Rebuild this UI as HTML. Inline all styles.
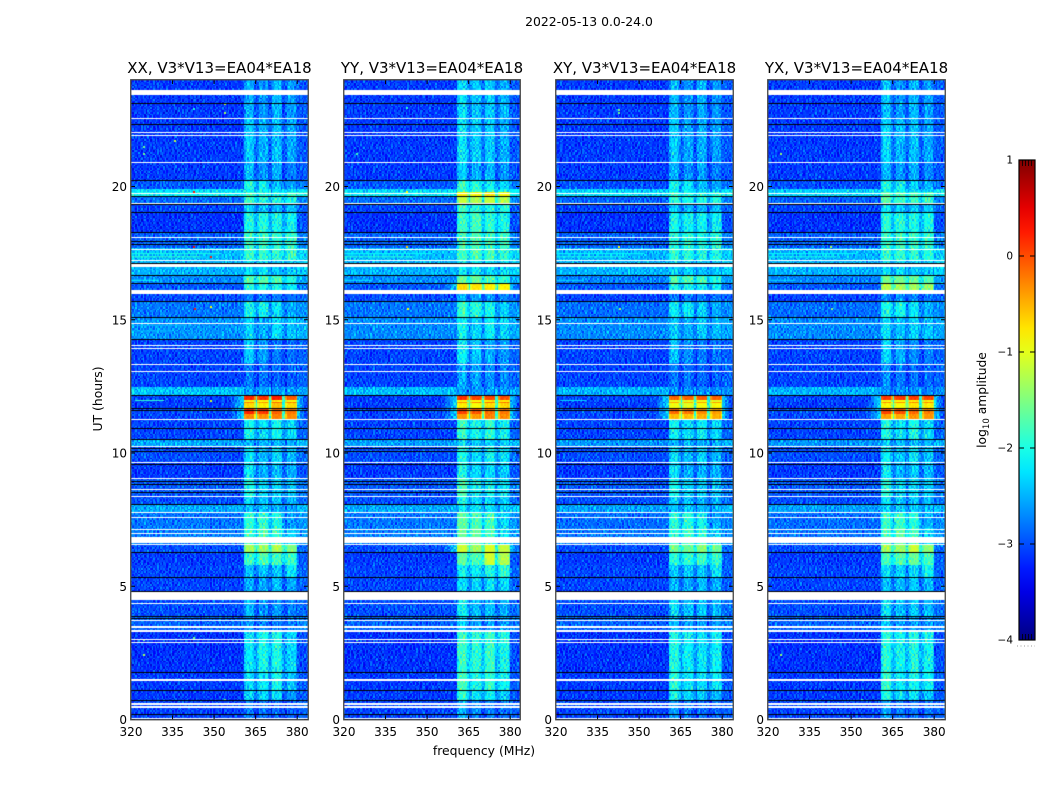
<!DOCTYPE html>
<html lang="en">
<head>
<meta charset="utf-8">
<title>2022-05-13 0.0-24.0</title>
<style>
html,body{margin:0;padding:0;background:#fff;}
#figure{position:relative;width:1050px;height:800px;overflow:hidden;background:#fff;font-family:"DejaVu Sans","Liberation Sans",sans-serif;}
canvas{position:absolute;display:block;}
svg{position:absolute;left:0;top:0;}
text{font-family:"DejaVu Sans","Liberation Sans",sans-serif;fill:#000;}
</style>
</head>
<body>
<div id="figure">
<canvas id="heat-xx" width="177" height="640" style="left:131px;top:80px"></canvas>
<canvas id="heat-yy" width="176" height="640" style="left:344px;top:80px"></canvas>
<canvas id="heat-xy" width="177" height="640" style="left:556px;top:80px"></canvas>
<canvas id="heat-yx" width="177" height="640" style="left:768px;top:80px"></canvas>
<svg id="overlay" width="1050" height="800" xmlns="http://www.w3.org/2000/svg"></svg>
</div>
<script>
const panelTitles = ["XX, V3*V13=EA04*EA18","YY, V3*V13=EA04*EA18","XY, V3*V13=EA04*EA18","YX, V3*V13=EA04*EA18"];
const freqTicks = [320,335,350,365,380];
const hourTicks = [0,5,10,15,20];
const colorTicks = [1,0,-1,-2,-3,-4];
const colorTickLabels = ["1","0","\u22121","\u22122","\u22123","\u22124"];

/* lower edge (UT hours) of each time band, top of plot downward */
const bandEndHours = [22.55,20.88,20.24,19.94,19.76,19.64,19.38,19.04,18.26,17.66,17.24,16.65,16.35,16.12,15.68,15.09,14.27,13.34,12.48,12.15,11.99,11.95,11.84,11.69,11.43,11.28,10.49,10.26,9.66,9.06,8.39,8.05,7.79,7.15,6.59,6.29,5.80,5.31,4.78,3.88,3.28,1.78,1.10,0.72,0.00];

/* log10 amplitude per band: background, then the four RFI blocks */
const levelsXX = [
[-3.25,-2.5,-2.65,-2.45,-2.6],[-3.25,-2.35,-2.5,-2.4,-2.55],[-3.25,-2.45,-2.65,-2.5,-2.75],[-3.1,-2.0,-2.1,-2.4,-2.6],[-2.4,-2.1,-2.1,-2.25,-2.3],
[-2.3,-1.8,-1.95,-2.0,-1.85],[-3.0,-1.8,-2.0,-2.0,-2.0],[-3.2,-2.3,-2.4,-2.4,-2.4],[-3.3,-2.0,-2.0,-2.05,-2.1],[-3.05,-1.85,-1.85,-1.9,-1.85],
[-2.6,-1.85,-1.9,-1.9,-1.9],[-2.65,-2.25,-2.25,-2.35,-2.35],[-2.85,-1.7,-1.7,-1.75,-2.0],[-3.1,-1.95,-2.0,-2.05,-2.15],[-3.15,-2.75,-2.75,-2.75,-2.8],
[-2.95,-2.05,-2.1,-2.2,-2.55],[-2.8,-2.3,-2.5,-2.25,-2.4],[-3.2,-2.35,-2.6,-2.75,-2.8],[-3.2,-2.75,-2.8,-2.85,-2.9],[-2.55,-2.55,-2.55,-2.6,-2.6],
[-3.2,0.2,0.15,0.25,-0.05],[-3.2,-0.9,-0.9,-0.8,-0.9],[-3.25,-0.25,-0.35,-0.15,-0.25],[-3.25,-0.7,-0.8,-0.55,-0.7],[-3.15,0.2,0.1,-0.1,-0.2],
[-3.2,-0.3,-0.35,-0.25,-0.3],[-3.2,-2.05,-2.25,-2.05,-2.3],[-2.7,-2.45,-2.45,-2.45,-2.5],[-3.15,-2.2,-2.45,-2.25,-2.45],[-3.25,-2.2,-2.5,-2.4,-2.5],
[-3.1,-2.0,-2.3,-2.3,-2.4],[-3.15,-2.25,-2.4,-2.4,-2.5],[-2.7,-2.4,-2.4,-2.45,-2.55],[-2.95,-1.9,-1.9,-2.0,-2.6],[-2.9,-1.85,-1.75,-1.85,-2.3],
[-3.15,-1.3,-1.35,-1.25,-1.5],[-3.25,-1.85,-1.75,-1.8,-1.85],[-3.2,-2.4,-2.4,-2.35,-2.2],[-3.2,-2.5,-2.55,-2.4,-2.55],[-3.15,-2.45,-2.65,-2.6,-2.75],
[-3.05,-2.6,-2.7,-2.75,-2.75],[-3.3,-2.2,-2.05,-2.0,-2.3],[-3.25,-2.25,-2.2,-2.05,-2.4],[-3.25,-2.3,-2.3,-2.25,-2.65],[-3.2,-2.75,-2.8,-2.85,-2.9]];
const levelsYY = [
[-3.25,-2.25,-2.4,-2.35,-2.5],[-3.25,-2.2,-2.35,-2.35,-2.5],[-3.25,-2.35,-2.5,-2.45,-2.65],[-3.1,-1.85,-1.95,-2.1,-2.3],[-2.45,-1.85,-1.85,-1.95,-2.05],
[-2.35,-0.8,-0.85,-0.75,-0.85],[-3.0,-1.15,-1.25,-1.15,-1.25],[-3.2,-1.8,-1.95,-2.0,-2.0],[-3.3,-1.85,-1.8,-1.9,-2.05],[-3.05,-1.8,-1.75,-1.8,-1.85],
[-2.6,-1.8,-1.75,-1.8,-1.9],[-2.65,-2.15,-2.15,-2.25,-2.25],[-2.85,-1.6,-1.6,-1.7,-1.9],[-3.1,-0.7,-0.75,-0.8,-0.85],[-3.15,-2.5,-2.55,-2.6,-2.7],
[-2.95,-1.85,-1.95,-2.05,-2.35],[-2.85,-2.1,-2.3,-2.15,-2.3],[-3.2,-2.15,-2.4,-2.5,-2.6],[-3.2,-2.5,-2.55,-2.65,-2.7],[-2.6,-2.6,-2.6,-2.6,-2.6],
[-3.25,0.15,0.05,0.05,0.0],[-3.25,-0.9,-0.9,-0.8,-0.8],[-3.25,-0.3,-0.3,-0.2,-0.2],[-3.25,-0.8,-0.9,-0.7,-0.7],[-3.2,0.05,-0.05,-0.15,-0.2],
[-3.2,-0.35,-0.4,-0.25,-0.3],[-3.2,-1.85,-2.05,-1.9,-2.1],[-2.75,-2.25,-2.3,-2.3,-2.35],[-3.15,-2.0,-2.25,-2.1,-2.25],[-3.25,-2.0,-2.3,-2.25,-2.35],
[-3.1,-1.75,-2.1,-2.1,-2.2],[-3.15,-2.0,-2.25,-2.25,-2.35],[-2.7,-2.2,-2.2,-2.25,-2.35],[-2.95,-1.65,-1.75,-1.8,-2.3],[-2.9,-1.6,-1.65,-1.75,-2.2],
[-3.15,-1.1,-1.35,-1.05,-1.15],[-3.25,-1.65,-1.75,-1.1,-1.25],[-3.2,-2.1,-2.15,-2.0,-1.95],[-3.2,-2.25,-2.3,-2.2,-2.3],[-3.15,-2.1,-2.45,-2.4,-2.5],
[-3.05,-2.35,-2.55,-2.6,-2.6],[-3.3,-1.85,-1.95,-1.85,-2.05],[-3.25,-1.8,-2.05,-1.9,-2.1],[-3.25,-1.9,-2.2,-2.1,-2.35],[-3.2,-2.5,-2.7,-2.75,-2.8]];
const levelsXY = [
[-3.25,-2.45,-2.65,-2.5,-2.65],[-3.25,-2.35,-2.55,-2.5,-2.6],[-3.25,-2.5,-2.65,-2.55,-2.75],[-3.15,-2.05,-2.2,-2.4,-2.55],[-2.5,-2.15,-2.15,-2.3,-2.35],
[-2.4,-1.85,-2.0,-2.0,-1.95],[-3.05,-1.9,-2.05,-2.05,-2.05],[-3.2,-2.35,-2.45,-2.45,-2.45],[-3.3,-2.05,-2.1,-2.1,-2.15],[-3.05,-1.95,-1.95,-2.0,-1.95],
[-2.65,-1.9,-1.95,-2.0,-2.0],[-2.65,-2.3,-2.3,-2.4,-2.4],[-2.9,-1.75,-1.75,-1.8,-2.0],[-3.1,-2.0,-2.05,-2.1,-2.2],[-3.2,-2.75,-2.75,-2.8,-2.8],
[-3.0,-2.15,-2.2,-2.3,-2.55],[-2.85,-2.35,-2.5,-2.35,-2.45],[-3.2,-2.4,-2.65,-2.75,-2.8],[-3.2,-2.75,-2.8,-2.85,-2.9],[-2.65,-2.65,-2.65,-2.65,-2.7],
[-3.2,-0.1,-0.1,-0.05,-0.1],[-3.2,-1.0,-1.0,-0.95,-1.0],[-3.25,-0.45,-0.5,-0.4,-0.4],[-3.25,-0.95,-1.0,-0.9,-0.9],[-3.15,-0.15,-0.2,-0.3,-0.4],
[-3.2,-0.55,-0.55,-0.5,-0.5],[-3.2,-2.1,-2.25,-2.15,-2.3],[-2.8,-2.45,-2.45,-2.5,-2.5],[-3.15,-2.25,-2.45,-2.3,-2.45],[-3.25,-2.25,-2.5,-2.45,-2.5],
[-3.1,-2.05,-2.3,-2.35,-2.4],[-3.15,-2.3,-2.4,-2.45,-2.5],[-2.75,-2.4,-2.4,-2.45,-2.5],[-3.0,-1.95,-1.95,-2.05,-2.55],[-2.95,-1.9,-1.8,-1.9,-2.3],
[-3.15,-1.55,-1.6,-1.45,-1.6],[-3.25,-1.95,-1.9,-1.85,-1.9],[-3.2,-2.35,-2.4,-2.35,-2.2],[-3.2,-2.45,-2.5,-2.4,-2.5],[-3.15,-2.25,-2.4,-2.4,-2.5],
[-3.05,-2.45,-2.55,-2.6,-2.6],[-3.3,-2.0,-2.15,-2.2,-2.15],[-3.25,-1.95,-2.2,-2.25,-2.2],[-3.25,-2.05,-2.3,-2.35,-2.45],[-3.2,-2.6,-2.75,-2.8,-2.85]];
const levelsYX = [
[-3.25,-2.4,-2.6,-2.45,-2.6],[-3.25,-2.3,-2.45,-2.4,-2.55],[-3.25,-2.45,-2.6,-2.5,-2.7],[-3.15,-2.0,-2.1,-2.35,-2.5],[-2.5,-2.1,-2.1,-2.25,-2.3],
[-2.45,-1.65,-1.75,-1.75,-1.75],[-3.05,-1.7,-1.85,-1.85,-1.9],[-3.2,-2.2,-2.3,-2.35,-2.35],[-3.3,-1.95,-1.95,-2.0,-2.05],[-3.05,-1.85,-1.85,-1.85,-1.9],
[-2.65,-1.85,-1.9,-1.9,-1.95],[-2.65,-2.25,-2.25,-2.35,-2.35],[-2.9,-1.55,-1.55,-1.6,-1.75],[-3.1,-1.2,-1.3,-1.3,-1.4],[-3.2,-2.65,-2.65,-2.7,-2.75],
[-3.0,-2.0,-2.05,-2.2,-2.5],[-2.85,-2.25,-2.4,-2.3,-2.4],[-3.2,-2.3,-2.5,-2.65,-2.75],[-3.2,-2.65,-2.75,-2.8,-2.85],[-2.65,-2.65,-2.65,-2.65,-2.7],
[-3.2,0.1,0.1,0.1,0.05],[-3.2,-0.9,-0.9,-0.85,-0.85],[-3.25,-0.35,-0.35,-0.3,-0.3],[-3.25,-0.85,-0.9,-0.75,-0.8],[-3.15,0.05,0.0,-0.15,-0.25],
[-3.2,-0.4,-0.45,-0.35,-0.35],[-3.2,-2.0,-2.2,-2.0,-2.25],[-2.8,-2.35,-2.4,-2.4,-2.45],[-3.15,-2.15,-2.4,-2.2,-2.4],[-3.25,-2.15,-2.45,-2.35,-2.45],
[-3.1,-1.95,-2.25,-2.25,-2.35],[-3.15,-2.2,-2.35,-2.35,-2.45],[-2.75,-2.3,-2.3,-2.35,-2.45],[-3.0,-1.85,-1.85,-1.95,-2.5],[-2.95,-1.75,-1.65,-1.8,-2.25],
[-3.15,-1.3,-1.35,-1.1,-1.4],[-3.25,-1.8,-1.7,-1.6,-1.8],[-3.2,-2.25,-2.3,-2.25,-2.1],[-3.2,-2.4,-2.45,-2.35,-2.45],[-3.15,-2.2,-2.4,-2.35,-2.45],
[-3.05,-2.4,-2.55,-2.55,-2.6],[-3.3,-1.95,-2.1,-2.0,-2.1],[-3.25,-1.9,-2.15,-2.05,-2.15],[-3.25,-2.0,-2.25,-2.2,-2.4],[-3.2,-2.55,-2.75,-2.8,-2.8]];

/* RFI block limits in MHz */
const blockStartMHz = [360.6,365.5,370.6,375.7];
const blockEndMHz = [364.9,369.9,374.9,380.0];

/* flagged (no data, white) intervals: [upper hour, lower hour] */
const maskedHours = [[23.62,23.43],[22.56,22.52],[22.04,22.0],[21.93,21.89],[20.92,20.88],[19.76,19.72],[19.38,19.34],[18.11,18.07],[17.66,17.62],[17.23,17.2],[17.09,16.98],[16.12,15.97],[14.88,14.84],[14.05,14.02],[13.94,13.9],[13.34,13.3],[13.08,13.04],[11.28,11.24],[10.26,10.22],[9.66,9.62],[9.06,9.02],[8.65,8.61],[8.39,8.35],[7.77,7.73],[7.6,7.56],[7.15,7.11],[7.0,6.96],[6.83,6.62],[6.59,6.55],[4.78,4.5],[4.37,4.33],[3.73,3.7],[3.49,3.45],[3.36,3.28],[3.02,2.98],[2.91,2.87],[1.53,1.46],[0.62,0.53],[0.49,0.45],[0.06,0.02]];
/* zero-amplitude (black) scan lines, hours */
const blackHours = [23.13,22.31,20.24,19.64,19.32,19.04,18.26,17.94,17.82,17.12,16.65,16.35,15.68,15.09,14.27,12.15,11.66,11.58,10.93,10.49,10.16,10.06,9.56,8.92,8.80,8.51,8.05,6.27,5.31,4.82,3.88,3.80,1.78,1.10,0.72,0.20];

/* isolated bright pixels: [hour, MHz, level] */
const spursXX = [[19.84,342.4,0.3],[23.14,353.6,-1.2],[22.95,342.4,-2.0],[22.8,353.6,-1.3],[21.74,335.5,-1.2],[21.52,324.3,-1.6],[21.26,324.3,-1.6],[17.78,342.4,0.4],[17.4,348.5,0.2],[15.44,342.7,0.3],[15.52,348.5,-0.9],[11.99,348.5,-1.1],[3.02,324.3,-1.6],[2.46,324.3,-1.3],[3.1,342.4,-1.6],[0.77,353.6,-1.5]];
const spursYY = [[19.84,342.4,-0.9],[23.0,342.4,-1.9],[21.26,324.3,-1.8],[17.78,342.4,-0.6],[15.44,342.7,-0.9],[3.02,324.3,-1.8]];
const spursXY = [[22.9,342.4,-1.5],[22.8,342.4,-1.6],[17.78,342.4,-0.9],[15.44,342.7,-1.4],[3.02,324.3,-1.8]];
const spursYX = [[21.26,324.3,-1.4],[17.78,342.4,-1.3],[15.44,342.7,-1.5],[2.46,324.3,-1.4],[0.77,353.6,-1.8]];

/* horizontal streaks: [hour, from MHz, to MHz, level] */
const streaksXX = [[11.99,321.5,332,-1.9],[17.5,320,352,-2.0],[17.38,320,345,-1.85],[16.5,320,330,-2.1],[14.8,320,340,-2.5],[14.6,320,335,-2.45]];
const streaksYY = [[17.5,320,352,-2.1],[17.38,320,345,-1.9],[16.5,320,330,-2.2]];
const streaksXY = [[11.99,321.5,331,-2.3],[17.5,320,352,-2.1],[17.38,320,345,-2.0],[16.5,320,330,-2.3]];
const streaksYX = [[17.5,320,352,-2.1],[17.38,320,345,-2.0],[16.5,320,330,-2.3]];

/* hand-typed speckle residuals that give the cells their grain */
const grainTable = [0.12,-0.31,0.27,-0.08,0.41,-0.22,0.05,-0.38,0.19,0.33,-0.15,-0.44,0.24,0.02,-0.27,0.36,-0.11,0.15,-0.35,0.46,-0.05,-0.19,0.29,-0.41,0.09,0.21,-0.29,0.38,-0.13,-0.02,0.17,-0.36,0.31,-0.24,0.07,0.43,-0.17,-0.33,0.26,0.11,-0.46,0.34,-0.07,0.14,-0.26,0.22,-0.39,0.03,0.39,-0.12,-0.21,0.28,-0.34,0.16,0.48,-0.28,-0.04,0.2,-0.42,0.1,0.3,-0.16,-0.25,0.35,-0.09,0.06,-0.37];
const grainTableB = [-0.18,0.37,-0.03,0.25,-0.41,0.13,0.44,-0.29,-0.09,0.31,-0.36,0.08,0.21,-0.47,0.16,0.39,-0.14,-0.26,0.04,0.34,-0.33,0.19,-0.06,0.42,-0.22,-0.39,0.27,0.01,-0.12,0.47,-0.31,0.11,0.23,-0.44,0.35,-0.17,0.06,-0.28,0.29,-0.01,0.4,-0.37,0.15,-0.21,0.32,-0.08,-0.34,0.18,0.45,-0.24,0.03,-0.42,0.26];
const rowShiftTable = [0,23,7,51,14,39,3,60,28,11,46,19,33,5,57,25,42,9,64,16,36,2,49,21,31,12,55,27,44,8,62,18,35,4,53,24,40,10,59,15,47];
const rowShiftTableB = [17,4,41,29,8,52,22,36,1,47,13,31,25,6,44,19,38,10,50,27,3,34,15,48,21,42,7,30,12,45,2,37,24,9,51,18,33];

const plotTop = 80, plotBottom = 719.5, pxPerHour = 26.65, pxPerMHz = 2.77, plotWidth = 177;
const panelLeft = [131,344,556,768];
const canvasIds = ["heat-xx","heat-yy","heat-xy","heat-yx"];
const panelLevels = [levelsXX,levelsYY,levelsXY,levelsYX];
const panelSpurs = [spursXX,spursYY,spursXY,spursYX];
const panelStreaks = [streaksXX,streaksYY,streaksXY,streaksYX];
const vMin = -4, vMax = 1, cellW = 1.47, cellH = 1.6;

function yOfHour(h){return plotBottom - h*pxPerHour;}
function xOfMHz(f){return (f-320)*pxPerMHz;}
function hourOfY(y){return (plotBottom-y)/pxPerHour;}
function mhzOfX(x){return 320+x/pxPerMHz;}
function clamp01(v){return Math.max(0,Math.min(1,v));}
function jet(level){
  const t = clamp01((level-vMin)/(vMax-vMin));
  const r = clamp01(1.5-Math.abs(4*t-3)), g = clamp01(1.5-Math.abs(4*t-2)), b = clamp01(1.5-Math.abs(4*t-1));
  return "rgb("+Math.round(r*255)+","+Math.round(g*255)+","+Math.round(b*255)+")";
}
function bandIndex(h){
  for(let i=0;i<bandEndHours.length;i++){ if(h>=bandEndHours[i]) return i; }
  return bandEndHours.length-1;
}
function levelAt(levels,h,f){
  const row = levels[bandIndex(h)], bg = row[0]+0.15;
  const mean = (row[1]+row[2]+row[3]+row[4])/4;
  const hot = mean>-1.2;
  if(f>=blockStartMHz[0] && f<blockEndMHz[3]){
    for(let k=0;k<4;k++){
      if(f>=blockStartMHz[k] && f<blockEndMHz[k]){
        const u = (f-blockStartMHz[k])/(blockEndMHz[k]-blockStartMHz[k]);
        const d = Math.min(u,1-u);
        const core = hot ? 0.14 : 0.2;
        const drop = hot ? 0.55 : 0.45;
        return row[k+1]-drop*Math.max(0,(core-d)/core);
      }
    }
    return Math.max(bg, mean-0.5-Math.max(0,mean+1.5)*0.9);
  }
  if(hot){
    if(f>=380) return Math.max(bg,-2.35-(f-380)*0.22);
    if(f>354) return Math.max(bg,-2.3-(360.6-f)*0.16);
    return bg;
  }
  if(f>=380) return Math.min(mean,bg+0.15);
  return bg;
}
function drawPanel(p){
  const cv = document.getElementById(canvasIds[p]), ctx = cv.getContext("2d");
  const levels = panelLevels[p];
  ctx.fillStyle = "#0000cc"; ctx.fillRect(0,0,cv.width,cv.height);
  const rows = Math.ceil(cv.height/cellH), cols = Math.ceil(cv.width/cellW);
  for(let r=0;r<rows;r++){
    const y0 = Math.round(r*cellH), y1 = Math.round((r+1)*cellH);
    const h = hourOfY(plotTop+(y0+y1)/2);
    const shiftA = rowShiftTable[(r+p*7)%rowShiftTable.length];
    const shiftB = rowShiftTableB[(r+p*5)%rowShiftTableB.length];
    for(let c=0;c<cols;c++){
      const x0 = Math.round(c*cellW), x1 = Math.round((c+1)*cellW);
      const f = mhzOfX((c+0.5)*cellW);
      const base = levelAt(levels,h,f);
      const scale = base>-1.2 ? 0.22 : (base>-1.7 ? 0.55 : 0.9);
      const g = grainTable[(c+shiftA+p*13)%grainTable.length]*0.72 + grainTableB[(c+shiftB+p*3)%grainTableB.length]*0.55;
      ctx.fillStyle = jet(base+g*scale);
      ctx.fillRect(x0,y0,x1-x0,y1-y0);
    }
  }
  panelStreaks[p].forEach(function(s){
    ctx.fillStyle = jet(s[3]);
    ctx.fillRect(xOfMHz(s[1]),yOfHour(s[0])-plotTop,(s[2]-s[1])*pxPerMHz,1);
  });
  panelSpurs[p].forEach(function(s){
    ctx.fillStyle = jet(s[2]);
    ctx.fillRect(Math.round(xOfMHz(s[1])),Math.round(yOfHour(s[0])-plotTop),2,2);
  });
  ctx.fillStyle = "#fff";
  maskedHours.forEach(function(m){
    const a = Math.round(yOfHour(m[0])-plotTop), b = Math.round(yOfHour(m[1])-plotTop);
    ctx.fillRect(0,a,cv.width,Math.max(1,b-a));
  });
  ctx.fillStyle = "#000";
  blackHours.forEach(function(bh){
    ctx.fillRect(0,Math.round(yOfHour(bh)-plotTop-0.5),cv.width,1);
  });
}

const NS = "http://www.w3.org/2000/svg";
const svg = document.getElementById("overlay");
function make(tag,attrs,parent){
  const el = document.createElementNS(NS,tag);
  for(const k in attrs){ el.setAttribute(k,attrs[k]); }
  (parent||svg).appendChild(el);
  return el;
}
function label(str,x,y,size,anchor,parent){
  const t = make("text",{x:x,y:y,"font-size":size,"text-anchor":anchor},parent);
  t.textContent = str;
  return t;
}
function canvasWidth(p){ return document.getElementById(canvasIds[p]).width; }
function drawAxes(p){
  const L = panelLeft[p], W = canvasWidth(p);
  const g = make("g",{});
  
  
  freqTicks.forEach(function(f){
    const x = L+xOfMHz(f);
    make("line",{x1:x,x2:x,y1:plotBottom,y2:plotBottom-4,stroke:"#000","stroke-width":1},g);
    make("line",{x1:x,x2:x,y1:plotTop,y2:plotTop+4,stroke:"#000","stroke-width":1},g);
    const t = label(String(f),x,736,12,"middle",g);
    
    
  });
  hourTicks.forEach(function(h){
    const y = yOfHour(h);
    make("line",{x1:L,x2:L+4,y1:y,y2:y,stroke:"#000","stroke-width":1},g);
    make("line",{x1:L+W-4,x2:L+W,y1:y,y2:y,stroke:"#000","stroke-width":1},g);
    const t = label(String(h),L-4,y+4.5,12,"end",g);
    
    
  });
  const frame = make("rect",{x:L-0.25,y:plotTop-0.25,width:W+0.5,height:plotBottom-plotTop+0.5,fill:"none",stroke:"#444","stroke-width":1.3},g);
  
  
  const title = label(panelTitles[p],L+W/2,73,15,"middle",g);
  
  
}
function drawColorbar(){
  const x = 1019, w = 16, top = 160, bottom = 640;
  const g = make("g",{});
  
  
  const defs = make("defs",{},g);
  const grad = make("linearGradient",{id:"jetGradient",x1:0,y1:1,x2:0,y2:0},defs);
  for(let i=0;i<=20;i++){
    make("stop",{offset:(i/20),"stop-color":jet(vMin+(vMax-vMin)*i/20)},grad);
  }
  make("rect",{x:x,y:top,width:w,height:bottom-top,fill:"url(#jetGradient)"},g);
  make("rect",{x:x,y:top,width:w,height:bottom-top,fill:"none",stroke:"#000","stroke-width":1.2},g);
  colorTicks.forEach(function(v,i){
    const y = bottom-(v-vMin)/(vMax-vMin)*(bottom-top);
    make("line",{x1:x,x2:x+5,y1:y,y2:y,stroke:"#000","stroke-width":1},g);
    make("line",{x1:x+w-5,x2:x+w,y1:y,y2:y,stroke:"#000","stroke-width":1},g);
    const t = label(colorTickLabels[i],1013,y+3.5,10.5,"end",g);
    
    
  });
  [3,6,9,12].forEach(function(d){
    make("line",{x1:x+d+0.5,x2:x+d+0.5,y1:top,y2:top+6,stroke:"#000","stroke-width":0.8},g);
    make("line",{x1:x+d+0.5,x2:x+d+0.5,y1:bottom,y2:bottom-6,stroke:"#000","stroke-width":0.8},g);
  });
  make("line",{x1:1017,x2:1035,y1:646,y2:646,stroke:"#999","stroke-width":1,"stroke-dasharray":"1 2.5"},g);
}
function drawFigureLabels(){
  const sup = label("2022-05-13 0.0-24.0",589,26,12.4,"middle");
  
  
  const xl = label("frequency (MHz)",484,755,12.4,"middle");
  
  
  const yl = label("UT (hours)",0,0,12.4,"middle");
  yl.setAttribute("transform","translate(102,399) rotate(-90)");
  
  
  const cl = make("text",{"font-size":12.3,"text-anchor":"middle",transform:"translate(986,400) rotate(-90)"});
  
  
  const a = make("tspan",{},cl); a.textContent = "log";
  const b = make("tspan",{dy:3,"font-size":8.6},cl); b.textContent = "10";
  const c = make("tspan",{dy:-3},cl); c.textContent = " amplitude";
}
for(let p=0;p<4;p++){ drawPanel(p); drawAxes(p); }
drawColorbar();
drawFigureLabels();
</script>
</body>
</html>
